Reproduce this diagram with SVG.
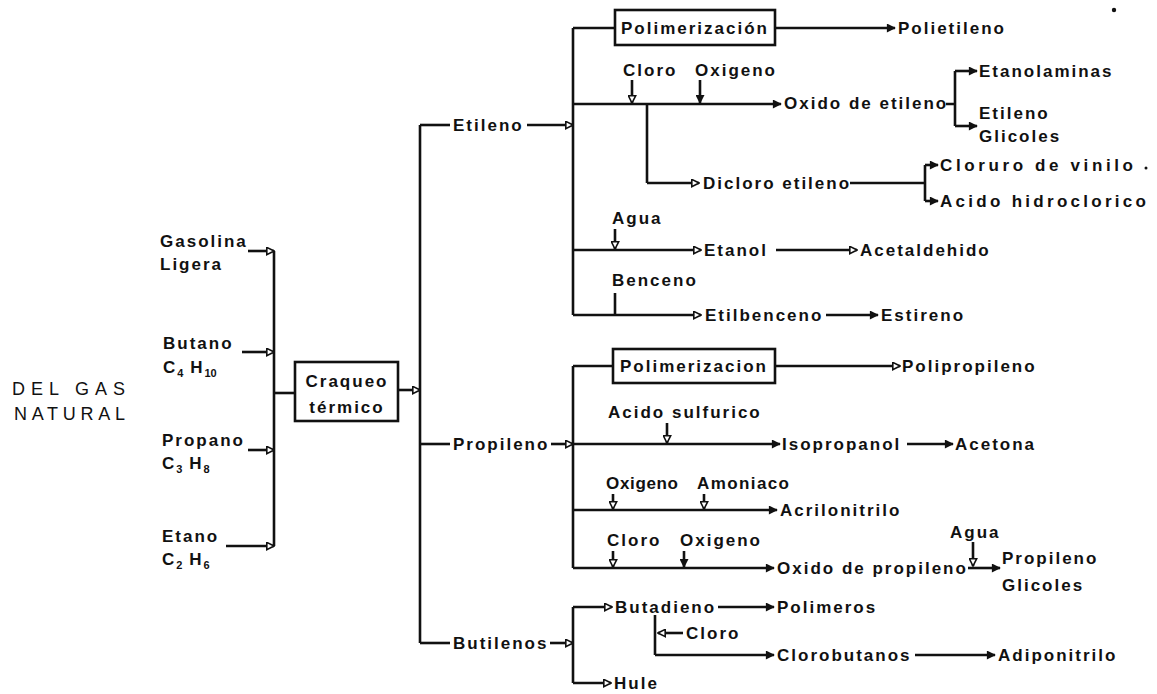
<svg xmlns="http://www.w3.org/2000/svg" width="1157" height="694" viewBox="0 0 1157 694">
<style>
.t{font-family:"Liberation Sans",Arial,sans-serif;font-weight:bold;font-size:17px;letter-spacing:2px;fill:#111}
.r{font-family:"Liberation Sans",Arial,sans-serif;font-size:18px;fill:#111}
.c{text-anchor:middle}
.s{font-size:11px;letter-spacing:0}
.ln{stroke:#111;stroke-width:2.6;fill:none}
.bx{stroke:#111;stroke-width:2.6;fill:#fff}
.f{marker-end:url(#af)}
.h{marker-end:url(#ah)}
</style>
<defs>
<marker id="af" viewBox="0 0 10 10" refX="9" refY="5" markerWidth="11" markerHeight="9" orient="auto" markerUnits="userSpaceOnUse"><path d="M0,0 L10,5 L0,10 z" fill="#111"/></marker>
<marker id="ah" viewBox="0 0 10 10" refX="9" refY="5" markerWidth="10" markerHeight="9" orient="auto" markerUnits="userSpaceOnUse"><path d="M1,1 L9,5 L1,9 z" fill="#fff" stroke="#111" stroke-width="1.8"/></marker>
</defs>
<rect width="1157" height="694" fill="#fff"/>
<g id="connectors">
<path class="ln" d="M274,251 V546"/>
<path class="ln h" d="M248,251 H274"/>
<path class="ln h" d="M242,352 H274"/>
<path class="ln h" d="M248,450 H274"/>
<path class="ln h" d="M226,546 H274"/>
<path class="ln" d="M274,393 H295"/>
<path class="ln h" d="M398,390 H420"/>
<path class="ln" d="M420,125 V643"/>
<path class="ln" d="M420,125 H450"/>
<path class="ln h" d="M527,125 H573"/>
<path class="ln" d="M420,444 H450"/>
<path class="ln h" d="M551,444 H573"/>
<path class="ln" d="M420,643 H450"/>
<path class="ln h" d="M550,643 H573"/>
<path class="ln" d="M573,28 V315"/>
<path class="ln" d="M573,28 H615"/>
<path class="ln f" d="M775,28 H895"/>
<path class="ln h" d="M632,80 V103"/>
<path class="ln f" d="M700,80 V103"/>
<path class="ln f" d="M573,104 H781"/>
<path class="ln" d="M946,104 H955 M955,71 V126"/>
<path class="ln f" d="M955,71 H977"/>
<path class="ln f" d="M955,126 H977"/>
<path class="ln" d="M647,104 V183"/>
<path class="ln h" d="M647,183 H699"/>
<path class="ln" d="M850,183 H925 M925,165 V201"/>
<path class="ln f" d="M925,165 H938"/>
<path class="ln f" d="M925,201 H938"/>
<path class="ln h" d="M615,229 V249"/>
<path class="ln h" d="M573,250 H701"/>
<path class="ln h" d="M776,250 H857"/>
<path class="ln" d="M615,293 V315"/>
<path class="ln h" d="M573,315 H701"/>
<path class="ln f" d="M826,315 H878"/>
<path class="ln" d="M573,366 V568"/>
<path class="ln" d="M573,366 H613"/>
<path class="ln h" d="M775,366 H900"/>
<path class="ln h" d="M667,423 V443"/>
<path class="ln f" d="M573,444 H780"/>
<path class="ln f" d="M907,444 H953"/>
<path class="ln h" d="M613,494 V509"/>
<path class="ln h" d="M704,494 V509"/>
<path class="ln f" d="M573,510 H777"/>
<path class="ln h" d="M613,551 V567"/>
<path class="ln f" d="M684,551 V567"/>
<path class="ln f" d="M573,568 H774"/>
<path class="ln h" d="M973,542 V566"/>
<path class="ln f" d="M968,568 H1000"/>
<path class="ln" d="M573,607 V683"/>
<path class="ln h" d="M573,607 H612"/>
<path class="ln f" d="M718,607 H774"/>
<path class="ln" d="M655,615 V655"/>
<path class="ln h" d="M683,633 H658"/>
<path class="ln f" d="M655,655 H774"/>
<path class="ln f" d="M915,655 H995"/>
<path class="ln h" d="M573,683 H611"/>
</g>
<g id="origen"><text class="r" x="12" y="395" textLength="113">DEL GAS</text><text class="r" x="14" y="420" textLength="111">NATURAL</text></g>
<g id="gasolina"><text class="t" x="160" y="247">Gasolina</text><text class="t" x="160" y="270">Ligera</text></g>
<g id="butano"><text class="t" x="163" y="349">Butano</text><text class="t" x="163" y="373">C<tspan class="s" dy="4">4</tspan><tspan dy="-4"> H</tspan><tspan class="s" dy="4">10</tspan></text></g>
<g id="propano"><text class="t" x="162" y="446">Propano</text><text class="t" x="162" y="469">C<tspan class="s" dy="4">3</tspan><tspan dy="-4"> H</tspan><tspan class="s" dy="4">8</tspan></text></g>
<g id="etano"><text class="t" x="162" y="542">Etano</text><text class="t" x="162" y="565">C<tspan class="s" dy="4">2</tspan><tspan dy="-4"> H</tspan><tspan class="s" dy="4">6</tspan></text></g>
<g id="craqueo"><rect class="bx" x="295" y="362" width="103" height="59"/><text class="t c" x="347" y="387">Craqueo</text><text class="t c" x="347" y="413">térmico</text></g>
<g id="etileno"><text class="t" x="453" y="131">Etileno</text></g>
<g id="propileno"><text class="t" x="453" y="450">Propileno</text></g>
<g id="butilenos"><text class="t" x="453" y="649">Butilenos</text></g>
<g id="polimerizacion1"><rect class="bx" x="615" y="10" width="160" height="35"/><text class="t c" x="695" y="34">Polimerización</text></g>
<g id="polietileno"><text class="t" x="898" y="34">Polietileno</text></g>
<circle cx="1114" cy="10" r="2.2" fill="#111"/>
<g id="reactivos-oxido-etileno"><text class="t" x="623" y="76">Cloro</text><text class="t" x="695" y="76">Oxigeno</text></g>
<g id="oxido-etileno"><text class="t" x="784" y="109">Oxido de etileno</text></g>
<g id="etanolaminas"><text class="t" x="979" y="77">Etanolaminas</text></g>
<g id="etileno-glicoles"><text class="t" x="979" y="119">Etileno</text><text class="t" x="979" y="142">Glicoles</text></g>
<g id="dicloro-etileno"><text class="t" x="703" y="189">Dicloro etileno</text></g>
<g id="cloruro-vinilo"><text class="t" x="940" y="171" textLength="195">Cloruro de vinilo</text><circle cx="1146" cy="168" r="1.5" fill="#111"/></g>
<g id="acido-hidroclorico"><text class="t" x="940" y="207" textLength="208">Acido hidroclorico</text></g>
<g id="agua1"><text class="t" x="612" y="224">Agua</text></g>
<g id="etanol"><text class="t" x="704" y="256">Etanol</text></g>
<g id="acetaldehido"><text class="t" x="860" y="256">Acetaldehido</text></g>
<g id="benceno"><text class="t" x="612" y="286">Benceno</text></g>
<g id="etilbenceno"><text class="t" x="705" y="321">Etilbenceno</text></g>
<g id="estireno"><text class="t" x="881" y="321">Estireno</text></g>
<g id="polimerizacion2"><rect class="bx" x="613" y="349" width="162" height="34"/><text class="t c" x="694" y="372">Polimerizacion</text></g>
<g id="polipropileno"><text class="t" x="902" y="372">Polipropileno</text></g>
<g id="acido-sulfurico"><text class="t" x="608" y="418">Acido sulfurico</text></g>
<g id="isopropanol"><text class="t" x="782" y="450">Isopropanol</text></g>
<g id="acetona"><text class="t" x="955" y="450">Acetona</text></g>
<g id="reactivos-acrilonitrilo"><text class="t" x="606" y="489" textLength="74">Oxigeno</text><text class="t" x="697" y="489" textLength="94">Amoniaco</text></g>
<g id="acrilonitrilo"><text class="t" x="780" y="516">Acrilonitrilo</text></g>
<g id="reactivos-oxido-propileno"><text class="t" x="607" y="546">Cloro</text><text class="t" x="680" y="546">Oxigeno</text></g>
<g id="oxido-propileno"><text class="t" x="777" y="574">Oxido de propileno</text></g>
<g id="agua2"><text class="t" x="950" y="538">Agua</text></g>
<g id="propileno-glicoles"><text class="t" x="1002" y="564">Propileno</text><text class="t" x="1002" y="591">Glicoles</text></g>
<g id="butadieno"><text class="t" x="615" y="613">Butadieno</text></g>
<g id="polimeros"><text class="t" x="777" y="613">Polimeros</text></g>
<g id="cloro3"><text class="t" x="686" y="639">Cloro</text></g>
<g id="clorobutanos"><text class="t" x="777" y="661">Clorobutanos</text></g>
<g id="adiponitrilo"><text class="t" x="998" y="661">Adiponitrilo</text></g>
<g id="hule"><text class="t" x="614" y="689">Hule</text></g>
</svg>
